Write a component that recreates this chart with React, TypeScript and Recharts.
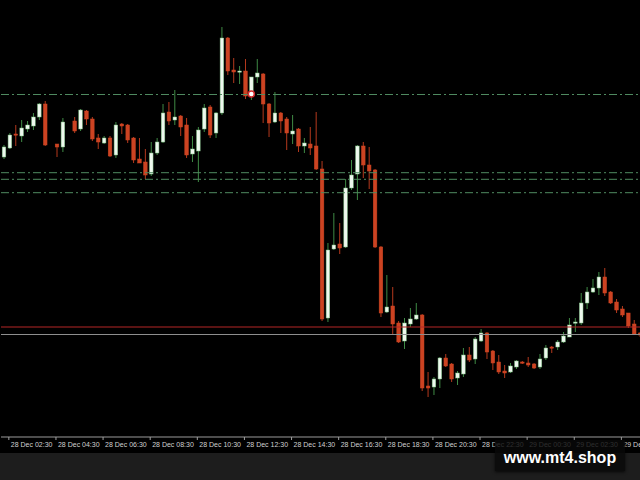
import React from "react";
import { ComposedChart, Bar, XAxis, YAxis, ReferenceLine, ReferenceDot } from "recharts";

// 15-minute candles starting 28 Dec 02:15
const START_MINUTES = 2 * 60 + 15;
const N = 109;
const pad = (n: number) => (n < 10 ? "0" + n : "" + n);
const CATEGORIES: string[] = Array.from({ length: N }, (_, i) => {
  const m = START_MINUTES + 15 * i;
  const day = 28 + Math.floor(m / 1440);
  const mm = m % 1440;
  return `${day} Dec ${pad(Math.floor(mm / 60))}:${pad(mm % 60)}`;
});
const TICK_LABELS = CATEGORIES.filter((_, i) => i % 8 === 1);

const OPEN: (number | null)[] = [
  280, 289, 303, 301, 308, 311, 320, 333, null, 293, 290, null, 316, 308, 326, 318, 299, 294, 299, 282,
  313, 312, 299, 278, 275, 263, 284, 295, 325, 317, 321, 312, 283, 286, 308, 330, 304, 324, 399, 367,
  365, 366, 343, 360, 363, 333, 315, 324, 318, 303, 308, 291, 293, 291, 268, 119, 188, 193, 190, 249,
  263, 291, 272, 267, 190, 125, 131, 114, 96, 113, 118, 122, 51, 50, 58, 79, 73, 59, 63, 82,
  78, 96, 104, 86, 75, 66, 65, 70, 75, 74, 73, 70, 79, 90, 90, 95, 100, 114, 114, 134,
  145, 149, 160, 145, 135, 128, 124, 113, 104,
];
const HIGH: (number | null)[] = [
  292, 304, 312, 317, 316, 324, 334, 336, null, 293, 319, null, 320, 328, 327, 320, 303, 301, 301, 315,
  314, 313, 300, 299, 288, 295, 299, 333, 335, 347, 322, 319, 301, 310, 333, 332, 325, 410, 400, 379,
  371, 378, 360, 378, 364, 334, 345, 325, 320, 322, 309, 299, 310, 325, 276, 194, 224, 214, 258, 277,
  292, 295, 290, 268, 191, 162, 150, 116, 119, 129, 134, 123, 65, 60, 80, 83, 74, 66, 89, 90,
  100, 108, 105, 87, 82, 72, 74, 77, 76, 80, 74, 83, 92, 91, 97, 105, 119, 119, 144, 150,
  158, 165, 169, 146, 138, 131, 124, 117, 105,
];
const LOW: (number | null)[] = [
  278, 288, 291, 295, 305, 307, 317, 291, null, 280, 285, null, 304, 306, 312, 296, 288, 293, 280, 279,
  303, 294, 274, 274, 258, 261, 282, 294, 312, 312, 301, 279, 275, 255, 305, 299, 299, 322, 362, 354,
  353, 338, 337, 354, 314, 300, 314, 304, 287, 293, 285, 284, 282, 267, 116, 115, 187, 183, 189, 247,
  237, 259, 248, 189, 120, 124, 102, 94, 88, 110, 117, 46, 40, 42, 49, 70, 55, 52, 60, 75,
  73, 95, 78, 67, 63, 59, 64, 68, 73, 70, 68, 68, 77, 84, 87, 94, 100, 105, 112, 128,
  144, 142, 141, 133, 124, 120, 109, 102, 100,
];
const CLOSE: (number | null)[] = [
  290, 302, 302, 309, 312, 320, 333, 292, null, 290, 315, null, 306, 327, 318, 298, 295, 299, 281, 312,
  311, 297, 277, 274, 262, 284, 295, 324, 316, 320, 310, 282, 288, 307, 329, 302, 324, 399, 366, 365,
  366, 341, 360, 364, 333, 314, 324, 316, 304, 306, 291, 294, 289, 268, 118, 187, 192, 189, 249, 262,
  291, 272, 266, 190, 124, 130, 113, 95, 114, 118, 122, 49, 49, 58, 79, 71, 58, 64, 82, 77,
  98, 104, 85, 74, 65, 64, 71, 76, 74, 72, 69, 78, 89, 89, 95, 101, 112, 115, 134, 145,
  149, 160, 144, 134, 127, 122, 111, 103, 102,
];

// horizontal levels
const DASH_LEVELS = [342.5, 264.3, 257.7, 244.3];
const RED_LEVEL = 110;
const BID_LEVEL = 102.5;
const MARKER = { index: 42, value: 343 };

const data = CATEGORIES.map((t, i) => ({
  t,
  open: OPEN[i],
  high: HIGH[i],
  low: LOW[i],
  close: CLOSE[i],
  range: HIGH[i] == null ? null : [LOW[i], HIGH[i]],
}));

function Candle(props: any) {
  const { x, y, width, height, payload } = props;
  if (!payload || payload.high == null) return null;
  const { open, close, high, low } = payload;
  const span = high - low;
  const k = span > 0 ? height / span : 0;
  const py = (v: number) => y + (high - v) * k;
  const cx = x + width / 2;
  const bull = close >= open;
  const top = py(Math.max(open, close));
  const bot = py(Math.min(open, close));
  const bh = Math.max(1.2, bot - top);
  const bw = 3.6;
  const wick = bull ? "#3f8a45" : "#b5391d";
  const body = bull ? "#eef8ee" : "#cc4322";
  return (
    <g>
      <line x1={cx} x2={cx} y1={py(high)} y2={py(low)} stroke={wick} strokeWidth={1} />
      <rect x={cx - bw / 2} y={top} width={bw} height={bh} fill={body} stroke={bull ? "#7fbf85" : "#cc4322"} strokeWidth={0.5} />
    </g>
  );
}

function TimeTick(props: any) {
  const { x, y, payload } = props;
  return (
    <g>
      <line x1={x - 1} x2={x - 1} y1={y} y2={y + 3} stroke="#a0a0a0" strokeWidth={1} />
      <text
        x={x + 1}
        y={y + 10}
        textAnchor="start"
        fill="#d0d0d0"
        fontSize={7}
        fontFamily="'Liberation Sans', Arial, sans-serif"
      >
        {payload.value}
      </text>
    </g>
  );
}

export default function App() {
  return (
    <div
      style={{
        position: "fixed",
        left: 0,
        top: 0,
        width: 640,
        height: 480,
        overflow: "hidden",
        background: "#1d1d1d",
      }}
    >
      <div style={{ position: "absolute", left: 0, top: 0, width: 643, height: 453, background: "#000" }}>
        <ComposedChart
          width={643}
          height={452}
          data={data}
          margin={{ top: 0, right: 0, left: 1, bottom: 0 }}
          barCategoryGap={0}
          barGap={0}
        >
          <XAxis
            dataKey="t"
            height={15}
            ticks={TICK_LABELS}
            interval={0}
            tickSize={0}
            tickMargin={0}
            tick={<TimeTick />}
            axisLine={{ stroke: "#9a9a9a" }}
            tickLine={false}
          />
          <YAxis hide domain={[0, 437]} allowDataOverflow />
          {DASH_LEVELS.map((v) => (
            <ReferenceLine key={v} y={v} stroke="#4f8a60" strokeDasharray="8 3 2 3" strokeWidth={1} />
          ))}
          <ReferenceLine y={RED_LEVEL} stroke="#b42626" strokeWidth={1} />
          <ReferenceLine y={BID_LEVEL} stroke="#8e8e8e" strokeWidth={1} />
          <Bar dataKey="range" isAnimationActive={false} shape={(p: any) => <Candle {...p} />} />
          <ReferenceDot
            x={CATEGORIES[MARKER.index]}
            y={MARKER.value}
            r={3}
            fill="#ffffff"
            stroke="#d02a2a"
            strokeWidth={1.5}
          />
        </ComposedChart>
      </div>
      <div
        style={{
          position: "absolute",
          left: 495,
          top: 440,
          width: 130,
          height: 31,
          background: "rgba(8,8,8,0.82)",
          boxShadow: "0 1px 3px rgba(0,0,0,0.8)",
          color: "#ffffff",
          fontFamily: "'Liberation Sans', Arial, sans-serif",
          fontWeight: "bold",
          fontSize: 16,
          lineHeight: "31px",
          textAlign: "center",
          paddingTop: 2,
          boxSizing: "border-box",
        }}
      >
        www.mt4.shop
      </div>
    </div>
  );
}
